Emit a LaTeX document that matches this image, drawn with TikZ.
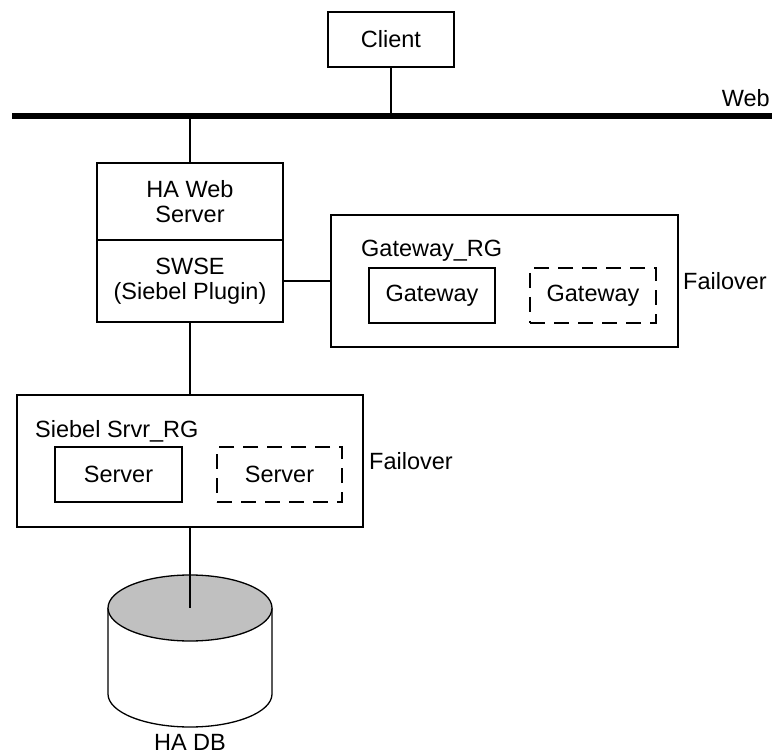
\documentclass[tikz,border=0pt]{standalone}
\usepackage{fontspec}
\setmainfont{Liberation Sans}
\begin{document}
\begin{tikzpicture}[x=1pt,y=-1pt,
  every node/.style={font=\fontsize{23.5}{25}\selectfont, inner sep=0pt},
  box/.style={draw, line width=1.3pt, align=center},
  dbox/.style={draw, line width=1.3pt, dash pattern=on 15pt off 9pt, align=center},
  conn/.style={line width=1.3pt},
  lbl/.style={anchor=base west}]
\useasboundingbox (0,0) rectangle (772,754);
% client and web
\node[box, minimum width=126pt, minimum height=55pt] (client) at (391,39.5) {Client};
\coordinate (wl) at (12,116);
\coordinate (wr) at (772,116);
\draw[line width=6pt] (wl) -- (wr);
\node[anchor=base east] (weblbl) at (770,107) {Web};
\draw[conn] (client.south) -- (client.south |- wl);
% HA web server
\node[box, minimum width=186pt, minimum height=77pt] (haws) at (190,201.5) {HA Web\\Server};
\node[box, minimum width=186pt, minimum height=82pt] (swse) at (190,281) {SWSE\\(Siebel Plugin)};
\draw[conn] (haws.north |- wl) -- (haws.north);
% gateway RG
\node[box, minimum width=347pt, minimum height=132pt] (gwrg) at (504.5,281) {};
\node[lbl] (gwrglbl) at (361,257) {Gateway\_RG};
\node[box, minimum width=126pt, minimum height=55pt] (gw1) at (432,295.5) {Gateway};
\node[dbox, minimum width=126pt, minimum height=55pt] (gw2) at (593,295.5) {Gateway};
\node[lbl] (gwfail) at (683,290) {Failover};
\draw[conn] (swse.east) -- (gwrg.west);
% siebel server RG
\node[box, minimum width=346pt, minimum height=132pt] (ssrg) at (190,461) {};
\node[lbl] (ssrglbl) at (35,437) {Siebel Srvr\_RG};
\node[box, minimum width=127pt, minimum height=55pt] (sv1) at (118.5,474.5) {Server};
\node[dbox, minimum width=125pt, minimum height=55pt] (sv2) at (279.5,474.5) {Server};
\node[lbl] (ssfail) at (369,469) {Failover};
\draw[conn] (swse.south) -- (ssrg.north);
% database
\coordinate (dbtop) at (190,608);
\coordinate (dbbot) at (190,694);
\draw[line width=1.3pt, fill=white] ([xshift=-82pt]dbtop) -- ([xshift=-82pt]dbbot)
  arc[start angle=180, end angle=360, x radius=82pt, y radius=33pt]
  -- ([xshift=82pt]dbtop);
\draw[line width=1.3pt, fill={rgb,255:red,192;green,192;blue,192}] (dbtop) ellipse [x radius=82pt, y radius=33pt];
\draw[conn] (ssrg.south) -- (dbtop);
\node[anchor=base] (dblbl) at (190,750) {HA DB};
\end{tikzpicture}
\end{document}
